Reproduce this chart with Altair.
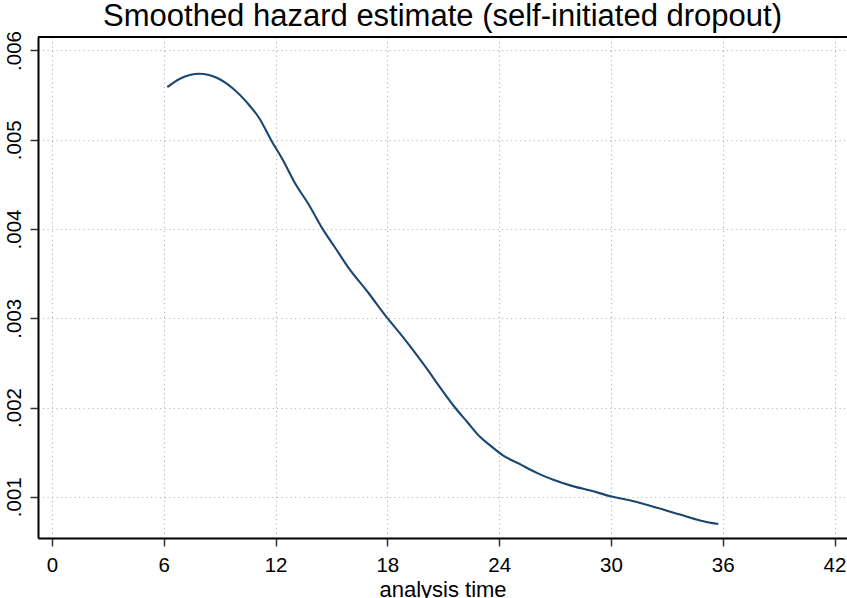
import altair as alt
import pandas as pd

# analysis time (months) and smoothed hazard values
t_vals = [6.19, 6.87, 7.91, 8.84, 9.73, 10.45, 11.16, 11.75, 12.40, 13.00,
          13.85, 14.50, 15.20, 15.90, 17.00, 17.93, 18.68, 19.39, 20.10, 20.83,
          21.63, 22.30, 22.97, 23.50, 24.20, 25.12, 26.02, 26.91, 27.90, 28.90,
          29.99, 31.00, 32.10, 33.71, 34.78, 35.76]
h_vals = [0.005589, 0.005683, 0.005739, 0.005694, 0.005571, 0.005421, 0.005230,
          0.005000, 0.004770, 0.004530, 0.004250, 0.004010, 0.003790, 0.003570,
          0.003280, 0.003020, 0.002830, 0.002640, 0.002440, 0.002225, 0.002000,
          0.001835, 0.001672, 0.001578, 0.001465, 0.001365, 0.001268, 0.001190,
          0.001122, 0.001070, 0.001005, 0.000960, 0.000900, 0.000800, 0.000735,
          0.000694]

x_ticks = [0, 6, 12, 18, 24, 30, 36, 42]
y_ticks = [0.001, 0.002, 0.003, 0.004, 0.005, 0.006]

title_text = "Smoothed hazard estimate (self-initiated dropout)"
x_title = "analysis time"

df = pd.DataFrame({"t": t_vals, "h": h_vals})

W, H = 809, 501
FONT = "Liberation Sans"
GRID = "#b8b8b8"

x_enc = alt.X(
    "t:Q",
    scale=alt.Scale(domain=[-0.75, 42.67], nice=False, zero=False),
    axis=alt.Axis(
        values=x_ticks, title=x_title, titleFont=FONT, titleFontSize=22,
        titleFontWeight="normal", titleColor="#000", titleBaseline="alphabetic",
        titleY=58,
        labelFont=FONT, labelFontSize=20.5, labelColor="#000", labelPadding=9,
        tickSize=8, tickColor="#333", tickWidth=1.5,
        domainColor="#000", domainWidth=2,
        grid=True, gridColor=GRID, gridDash=[1.2, 3.3], gridWidth=1.2,
    ),
)
y_enc = alt.Y(
    "h:Q",
    scale=alt.Scale(domain=[0.000538, 0.006151], nice=False, zero=False),
    axis=alt.Axis(
        values=y_ticks, title=None,
        labelExpr="substring(format(datum.value, '.3f'), 1)",
        labelFont=FONT, labelFontSize=20.5, labelColor="#000",
        labelAngle=270, labelAlign="center", labelBaseline="alphabetic",
        labelPadding=10,
        tickSize=8, tickColor="#333", tickWidth=1.5,
        domainColor="#000", domainWidth=2,
        grid=True, gridColor=GRID, gridDash=[1.2, 3.3], gridWidth=1.2,
    ),
)

line = alt.Chart(df).mark_line(color="#1a476f", strokeWidth=2.1, interpolate="monotone").encode(
    x=x_enc, y=y_enc
)

top_border = alt.Chart(df).mark_rule(color="#000", strokeWidth=2).encode(
    x=alt.value(0), x2=alt.value(W), y=alt.value(0)
)

title_mark = alt.Chart(pd.DataFrame({"label": [title_text]})).mark_text(
    font=FONT, fontSize=31, color="#000", align="center", baseline="alphabetic"
).encode(
    x=alt.value(W / 2), y=alt.value(-11), text="label:N"
)

chart = (
    alt.layer(line, top_border, title_mark)
    .properties(
        width=W, height=H,
        autosize=alt.AutoSizeParams(type="none"),
        padding={"left": 38, "top": 37, "right": 0, "bottom": 60},
    )
    .configure_view(stroke=None)
    .configure(background="white")
)

chart.save("out.html", embed_options={"renderer": "svg", "actions": False})
